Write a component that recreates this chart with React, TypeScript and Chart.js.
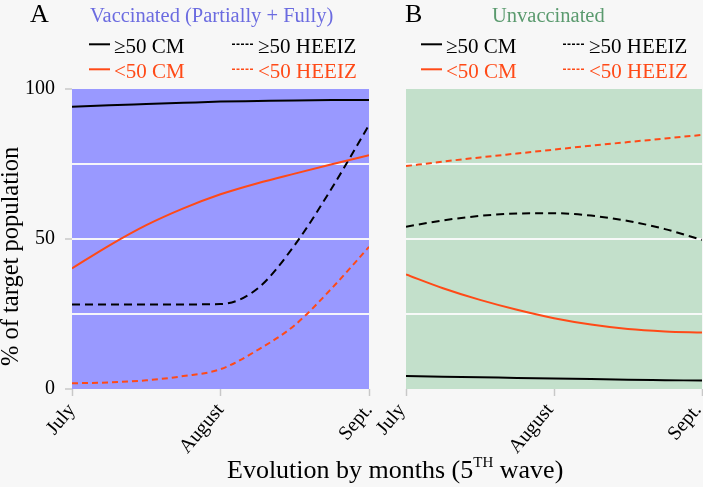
import React, { useEffect, useRef } from "react";
import { Chart, registerables } from "chart.js";
Chart.register(...registerables);

const FONT = "'Liberation Serif', 'Times New Roman', serif";
const BLACK = "#000000";
const ORANGE = "#ff4a17";
const GRID = "rgba(250,250,250,0.95)";
const TICK = "#c8c8c8";

// x axis: months (0 = July, 1 = August, 2 = Sept.)
const months = ["July", "August", "Sept."];
const monthTicks = [0, 1, 2];
const xPos = [0, 0.25, 0.5, 0.75, 1, 1.25, 1.5, 1.75, 2];
const yGridTicks = [0, 25, 50, 75, 100];
const yLabeled = [0, 50, 100];

// Panel A: Vaccinated (Partially + Fully)
const vacCmOver50 = [94.1, 94.6, 95.0, 95.4, 95.8, 96.0, 96.2, 96.3, 96.3];
const vacCmUnder50 = [40.2, 47.8, 54.6, 60.2, 64.9, 68.6, 71.8, 74.9, 77.9];
const vacHeeizOver50 = [28.2, 28.2, 28.2, 28.2, 28.3, 33.5, 48.0, 67.0, 88.0];
const vacHeeizUnder50 = [1.9, 2.2, 2.9, 4.3, 6.6, 13.0, 21.3, 33.6, 47.4];

// Panel B: Unvaccinated
const unvCmOver50 = [4.3, 4.1, 3.9, 3.7, 3.5, 3.3, 3.1, 2.95, 2.8];
const unvCmUnder50 = [38.2, 33.6, 29.7, 26.4, 23.6, 21.5, 20.0, 19.2, 18.8];
const unvHeeizOver50 = [54.1, 56.2, 57.7, 58.5, 58.6, 57.8, 56.0, 53.3, 49.7];
const unvHeeizUnder50 = [74.3, 75.8, 77.2, 78.5, 79.8, 81.1, 82.3, 83.5, 84.7];

const seriesLabels = ["≥50 CM", "<50 CM", "≥50 HEEIZ", "<50 HEEIZ"];

const bgPlugin = {
  id: "plotBg",
  beforeDraw(chart: any, _args: any, opts: any) {
    const { ctx, chartArea: a } = chart;
    if (!a) return;
    ctx.save();
    ctx.fillStyle = opts.color;
    ctx.fillRect(a.left, a.top, a.right - a.left, a.bottom - a.top);
    ctx.restore();
  },
};

function makeDatasets(cmO: number[], cmU: number[], hO: number[], hU: number[]) {
  const pts = (arr: number[]) => arr.map((y, i) => ({ x: xPos[i], y }));
  const base = {
    pointRadius: 0,
    borderWidth: 2,
    cubicInterpolationMode: "monotone" as const,
    fill: false,
  };
  return [
    { ...base, label: seriesLabels[0], data: pts(cmO), borderColor: BLACK },
    { ...base, label: seriesLabels[1], data: pts(cmU), borderColor: ORANGE },
    { ...base, label: seriesLabels[2], data: pts(hO), borderColor: BLACK, borderDash: [8, 5] },
    { ...base, label: seriesLabels[3], data: pts(hU), borderColor: ORANGE, borderDash: [6, 4] },
  ];
}

type PanelProps = {
  left: number;
  width: number;
  yWidth: number;
  padRight: number;
  bg: string;
  showY: boolean;
  labelShift: number;
  series: number[][];
};

function Panel({ left, width, yWidth, padRight, bg, showY, labelShift, series }: PanelProps) {
  const ref = useRef<HTMLCanvasElement | null>(null);
  useEffect(() => {
    if (!ref.current) return;
    const chart = new Chart(ref.current, {
      type: "line",
      data: { datasets: makeDatasets(series[0], series[1], series[2], series[3]) as any },
      plugins: [bgPlugin as any],
      options: {
        animation: false,
        responsive: false,
        devicePixelRatio: 1,
        layout: { padding: { top: 9, right: padRight, left: 0, bottom: 0 } },
        plugins: {
          legend: { display: false },
          tooltip: { enabled: false },
          plotBg: { color: bg },
        } as any,
        scales: {
          x: {
            type: "linear",
            min: 0,
            max: 2,
            afterBuildTicks: (s: any) => {
              s.ticks = monthTicks.map((v) => ({ value: v }));
            },
            afterFit: (s: any) => {
              s.height = 91;
              s.paddingLeft = 0;
              s.paddingRight = 0;
            },
            ticks: {
              autoSkip: false,
              minRotation: 50,
              maxRotation: 50,
              padding: 3,
              labelOffset: labelShift,
              color: "#000",
              font: { family: FONT, size: 20 },
              callback: (v: any) => months[Number(v)] ?? "",
            },
            grid: {
              drawOnChartArea: false,
              tickLength: 7,
              tickColor: TICK,
              tickWidth: 1.5,
            },
            border: { display: false },
          },
          y: {
            min: 0,
            max: 100,
            afterBuildTicks: (s: any) => {
              s.ticks = yGridTicks.map((v) => ({ value: v }));
            },
            afterFit: (s: any) => {
              s.width = yWidth;
              s.paddingTop = 0;
              s.paddingBottom = 0;
            },
            ticks: {
              display: showY,
              padding: 10,
              color: "#000",
              font: { family: FONT, size: 20 },
              callback: (v: any) => (yLabeled.includes(Number(v)) ? String(v) : ""),
            },
            grid: {
              lineWidth: 2,
              color: (c: any) =>
                c.tick && [25, 50, 75].includes(c.tick.value) ? GRID : "rgba(0,0,0,0)",
              tickLength: 7,
              tickColor: (c: any) =>
                showY && c.tick && yLabeled.includes(c.tick.value) ? TICK : "rgba(0,0,0,0)",
              tickWidth: 1.5,
            },
            border: { display: false },
          },
        },
      },
    });
    return () => chart.destroy();
  }, []);
  return (
    <canvas
      ref={ref}
      width={width}
      height={400}
      style={{ position: "absolute", left, top: 80, width, height: 400 }}
    />
  );
}

function Legend({ x0, x1 }: { x0: number; x1: number }) {
  const rows = [44.3, 69.3];
  const base = [53, 77.5];
  return (
    <g fontFamily={FONT} fontSize={21}>
      <line x1={x0} x2={x0 + 21} y1={rows[0]} y2={rows[0]} stroke={BLACK} strokeWidth={2} />
      <text x={x0 + 25} y={base[0]} fill={BLACK}>{seriesLabels[0]}</text>
      <line x1={x0} x2={x0 + 21} y1={rows[1]} y2={rows[1]} stroke={ORANGE} strokeWidth={2} />
      <text x={x0 + 25} y={base[1]} fill={ORANGE}>{seriesLabels[1]}</text>
      <line x1={x1} x2={x1 + 21} y1={rows[0]} y2={rows[0]} stroke={BLACK} strokeWidth={1.6} strokeDasharray="3 1.5" />
      <text x={x1 + 26} y={base[0]} fill={BLACK}>{seriesLabels[2]}</text>
      <line x1={x1} x2={x1 + 21} y1={rows[1]} y2={rows[1]} stroke={ORANGE} strokeWidth={1.6} strokeDasharray="3 1.5" />
      <text x={x1 + 26} y={base[1]} fill={ORANGE}>{seriesLabels[3]}</text>
    </g>
  );
}

export default function App() {
  return (
    <div
      style={{
        position: "absolute",
        left: 0,
        top: 0,
        width: 703,
        height: 487,
        overflow: "hidden",
        background: "#f7f7f7",
      }}
    >
      <Panel
        left={0}
        width={390}
        yWidth={72}
        padRight={21}
        bg="#9999ff"
        showY={true}
        labelShift={0}
        series={[vacCmOver50, vacCmUnder50, vacHeeizOver50, vacHeeizUnder50]}
      />
      <Panel
        left={360}
        width={343}
        yWidth={46}
        padRight={1}
        bg="#c3e0cb"
        showY={false}
        labelShift={-4}
        series={[unvCmOver50, unvCmUnder50, unvHeeizOver50, unvHeeizUnder50]}
      />
      <svg
        width={703}
        height={487}
        style={{ position: "absolute", left: 0, top: 0, pointerEvents: "none" }}
      >
        <text x={30} y={22} fontFamily={FONT} fontSize={26} fill="#000">A</text>
        <text x={90} y={22} fontFamily={FONT} fontSize={20.5} fill="#6b6be0">
          Vaccinated (Partially + Fully)
        </text>
        <text x={405} y={22} fontFamily={FONT} fontSize={26} fill="#000">B</text>
        <text x={492} y={22} fontFamily={FONT} fontSize={20.5} fill="#5a9a6e">
          Unvaccinated
        </text>
        <Legend x0={89} x1={232} />
        <Legend x0={421} x1={563} />
        <text
          transform="translate(18,366) rotate(-90)"
          fontFamily={FONT}
          fontSize={24.5}
          fill="#000"
        >
          % of target population
        </text>
        <text x={227} y={478} fontFamily={FONT} fontSize={26} fill="#000">
          Evolution by months (5
          <tspan fontSize={15} dy={-11}>TH</tspan>
          <tspan dy={11}> wave)</tspan>
        </text>
      </svg>
    </div>
  );
}
